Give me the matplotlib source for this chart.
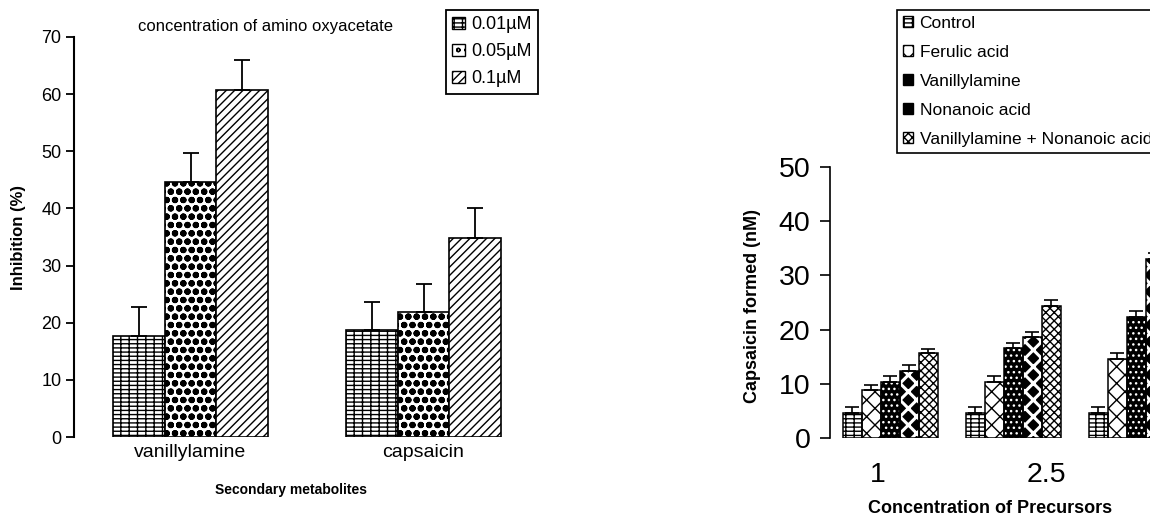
import matplotlib
matplotlib.use('Agg')
import matplotlib.pyplot as plt
import matplotlib.patches as mpatches
import numpy as np

plt.rcParams['font.family'] = ['Liberation Sans', 'DejaVu Sans']

# ---------------- Left panel data ----------------
metabolites = ['vanillylamine', 'capsaicin']
aoa_levels = ['0.01µM', '0.05µM', '0.1µM']
inhib_001 = [17.7, 18.7]
inhib_005 = [44.6, 21.8]
inhib_01 = [60.8, 34.9]
err_001 = [5.0, 5.0]
err_005 = [5.1, 4.9]
err_01 = [5.1, 5.1]

# ---------------- Right panel data ----------------
precursor_conc = ['1', '2.5', '5']
treatments = ['Control', 'Ferulic acid', 'Vanillylamine', 'Nonanoic acid',
              'Vanillylamine + Nonanoic acid']
cap_control = [4.6, 4.6, 4.6]
cap_ferulic = [8.8, 10.3, 14.6]
cap_vanillylamine = [10.3, 16.6, 22.4]
cap_nonanoic = [12.3, 18.6, 33.1]
cap_van_non = [15.6, 24.4, 38.0]
err_control = [1.1, 1.1, 1.1]
err_ferulic = [1.0, 1.1, 1.0]
err_vanillylamine = [1.1, 1.0, 1.1]
err_nonanoic = [1.1, 0.9, 1.0]
err_van_non = [0.9, 1.0, 1.0]


def hatch_lw(patches, lw):
    for p in patches:
        if hasattr(p, 'set_hatch_linewidth'):
            p.set_hatch_linewidth(lw)


fig = plt.figure(figsize=(11.5, 5.16), dpi=100)

# ================= LEFT =================
axL = fig.add_axes([74 / 1150, 79 / 516, 466 / 1150, 400 / 516])
left_vals = [inhib_001, inhib_005, inhib_01]
left_errs = [err_001, err_005, err_01]
left_hatch = ['----||', 'oo', '////']
left_hlw = [1.0, 2.2, 1.0]
wL = 0.2215
xL = np.arange(len(metabolites))
for i, (vals, errs, h, hl) in enumerate(zip(left_vals, left_errs, left_hatch, left_hlw)):
    pos = xL + (i - 1) * wL
    with plt.rc_context({'hatch.linewidth': hl}):
        bars = axL.bar(pos, vals, width=wL, facecolor='white', edgecolor='black',
                       hatch=h, linewidth=1.2, zorder=2)
    hatch_lw(bars, hl)
    axL.errorbar(pos, vals, yerr=[np.zeros(len(vals)), errs], fmt='none',
                 ecolor='black', elinewidth=1.3, capsize=6, capthick=1.3, zorder=3)

axL.set_xlim(-0.5, 1.5)
axL.set_ylim(0, 70)
axL.set_yticks(range(0, 71, 10))
axL.set_xticks(xL)
axL.set_xticklabels(metabolites)
for s in ['top', 'right', 'bottom']:
    axL.spines[s].set_visible(False)
axL.spines['left'].set_linewidth(1.5)
axL.tick_params(axis='y', direction='out', length=6, width=1.3, labelsize=13, pad=3)
axL.tick_params(axis='x', length=0, labelsize=14, pad=5)
axL.set_ylabel('Inhibition (%)', fontweight='bold', fontsize=12)
axL.yaxis.set_label_coords(-0.103, 0.5)
axL.set_xlabel('Secondary metabolites', fontweight='bold', fontsize=10)
axL.xaxis.set_label_coords(0.466, -0.115)
axL.text(0.412, 1.025, 'concentration of amino oxyacetate', transform=axL.transAxes,
         ha='center', va='center', fontsize=12)

with plt.rc_context({'hatch.linewidth': 1.0}):
    hL = [mpatches.Patch(facecolor='white', edgecolor='black', hatch=h, linewidth=1.0)
          for h in left_hatch]
legL = fig.legend(hL, aoa_levels, loc='upper left',
                  bbox_to_anchor=(446 / 1150, 1 - 10 / 516), fancybox=False,
                  edgecolor='black', framealpha=1, fontsize=13, handlelength=0.7,
                  handleheight=0.7, handletextpad=0.35, borderpad=0.35,
                  labelspacing=0.55, borderaxespad=0)
legL.get_frame().set_linewidth(1.3)

# ================= RIGHT =================
axR = fig.add_axes([830 / 1150, 78 / 516, 417 / 1150, 271 / 516])
right_vals = [cap_control, cap_ferulic, cap_vanillylamine, cap_nonanoic, cap_van_non]
right_errs = [err_control, err_ferulic, err_vanillylamine, err_nonanoic, err_van_non]
# (facecolor, hatch colour, hatch, hatch linewidth)
right_style = [('white', 'black', '----||', 1.0),
               ('white', 'black', 'xx', 1.0),
               ('black', 'white', '...', 1.0),
               ('black', 'white', 'xx', 2.2),
               ('white', 'black', 'xxxx', 1.0)]
wR = 0.1545
xR = np.arange(len(precursor_conc))
for i, (vals, errs, st) in enumerate(zip(right_vals, right_errs, right_style)):
    fc, hc, h, hl = st
    pos = xR + (i - 2) * wR
    with plt.rc_context({'hatch.linewidth': hl}):
        bars = axR.bar(pos, vals, width=wR, facecolor=fc, edgecolor=hc, hatch=h,
                       linewidth=0, zorder=2)
    hatch_lw(bars, hl)
    axR.bar(pos, vals, width=wR, fill=False, edgecolor='black', linewidth=1.1, zorder=2.5)
    axR.errorbar(pos, vals, yerr=[np.zeros(len(vals)), errs], fmt='none',
                 ecolor='black', elinewidth=1.2, capsize=5, capthick=1.2, zorder=3)

axR.set_xlim(-0.49, 2.9)
axR.set_ylim(0, 50)
axR.set_yticks(range(0, 51, 10))
# only the first two concentration labels fall inside the cropped frame
tick_offsets = [-0.10, 0.266]
n_vis = len(tick_offsets)
axR.set_xticks(xR[:n_vis] + np.array(tick_offsets))
axR.set_xticklabels(precursor_conc[:n_vis])
for s in ['top', 'right', 'bottom']:
    axR.spines[s].set_visible(False)
axR.spines['left'].set_linewidth(1.2)
axR.tick_params(axis='y', direction='out', length=7, width=1.2, labelsize=20.5, pad=7)
axR.tick_params(axis='x', length=0, labelsize=20.5, pad=17)
axR.set_ylabel('Capsaicin formed (nM)', fontweight='bold', fontsize=13)
axR.yaxis.set_label_coords(-0.165, 0.487)
axR.set_xlabel('Concentration of Precursors', fontweight='bold', fontsize=13)
axR.xaxis.set_label_coords(0.384, -0.229)

hR = []
for fc, hc, h, hl in right_style:
    with plt.rc_context({'hatch.linewidth': 1.0}):
        hR.append(mpatches.Patch(facecolor=fc, edgecolor='black',
                                 hatch=h if fc == 'white' else None, linewidth=1.0))
legR = fig.legend(hR, treatments, loc='upper left',
                  bbox_to_anchor=(897 / 1150, 1 - 10 / 516), fancybox=False,
                  edgecolor='black', framealpha=1, fontsize=12.5, handlelength=0.6,
                  handleheight=0.6, handletextpad=0.35, borderpad=0.35,
                  labelspacing=0.8, borderaxespad=0)
legR.get_frame().set_linewidth(1.2)

fig.savefig('out.png', dpi=100)
